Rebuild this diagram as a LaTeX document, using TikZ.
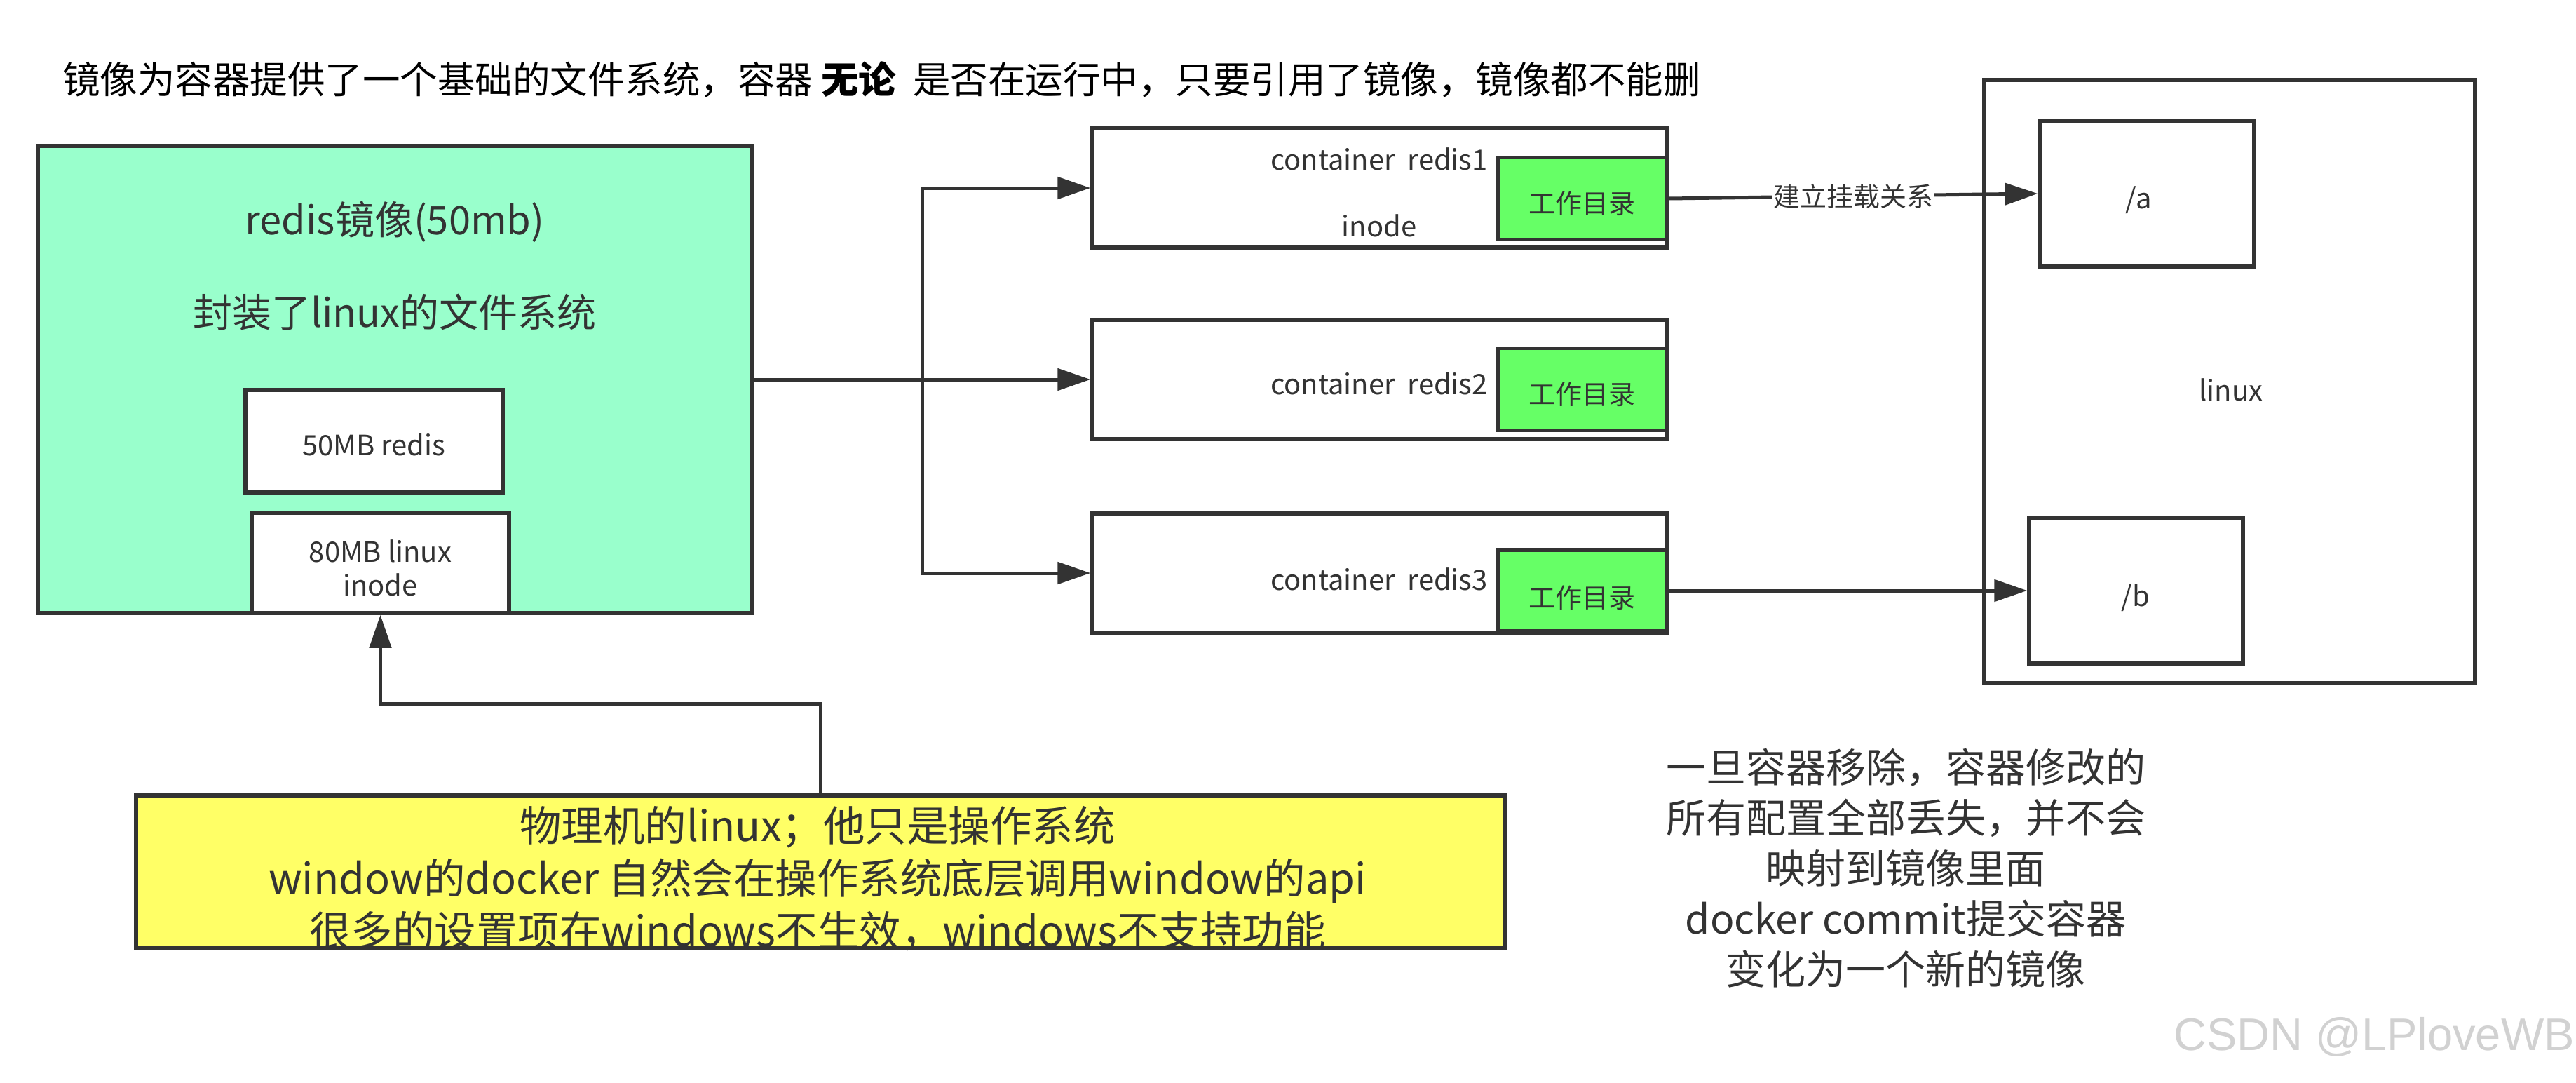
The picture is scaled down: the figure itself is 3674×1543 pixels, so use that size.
\documentclass[tikz,border=0pt]{standalone}
\usepackage{fontspec}
\setmainfont{Noto Sans CJK SC}
\newfontfamily\csdnfont{Liberation Sans}
\usetikzlibrary{arrows.meta}
\definecolor{dockerInk}{HTML}{333333}
\definecolor{dockerMint}{HTML}{99FFCC}
\definecolor{dockerLime}{HTML}{66FF66}
\definecolor{dockerNote}{HTML}{FFFF66}

\begin{document}
\begin{tikzpicture}[x=1pt,y=-1pt,
    box/.style={draw=dockerInk,line width=5.5pt,inner sep=0pt,text=dockerInk,
      font=\fontsize{40}{48}\selectfont},
    boxsize/.style 2 args={minimum width=#1pt,minimum height=#2pt},
    txt/.style={text=dockerInk,inner sep=0pt,font=\fontsize{40}{48}\selectfont},
    wdtxt/.style={txt,font=\fontsize{38}{44}\selectfont},
    wire/.style={draw=dockerInk,line width=5pt},
    link/.style={wire,-{Triangle[length=47pt,width=31pt]}}]
    \fill[white] (0,0) rectangle (3674,1543);
    \useasboundingbox (0,0) rectangle (3674,1543);

    % title
    \node[anchor=west,inner sep=0pt,font=\fontsize{53.5}{60}\selectfont] (title) at (89,113)
      {镜像为容器提供了一个基础的文件系统，容器 \textbf{无论}\ \ 是否在运行中，只要引用了镜像，镜像都不能删};

    % image
    \node[box,fill=dockerMint,boxsize={1018}{666}] (img) at (563,541) {};
    \node[txt,font=\fontsize{56}{64}\selectfont] (imgname) at (563,316) {redis镜像(50mb)};
    \node[txt,font=\fontsize{56}{64}\selectfont] (imgfs) at (563,445) {封装了linux的文件系统};
    \node[box,fill=white,boxsize={367}{146}] (redisfs) at (533.5,629) {};
    \node[txt] (redisfsname) at (533.5,634) {50MB redis};
    \node[box,fill=white,boxsize={367}{143}] (linuxfs) at (542.5,802.5) {};
    \node[txt,align=center] (linuxfsname) at (542.5,810) {80MB linux\\inode};

    % containers
    \node[box,boxsize={819}{170}] (c1) at (1967.5,268) {};
    \node[box,boxsize={819}{170}] (c2) at (1967.5,541) {};
    \node[box,boxsize={819}{170}] (c3) at (1967.5,817) {};
    \node[txt] (c1name) at (1967,227) {container\ \ redis1};
    \node[txt] (c1inode) at (1967,322) {inode};
    \node[txt] (c2name) at (1967,547) {container\ \ redis2};
    \node[txt] (c3name) at (1967,826) {container\ \ redis3};
    \node[box,fill=dockerLime,boxsize={241}{117}] (wd1) at (2256.5,283) {};
    \node[box,fill=dockerLime,boxsize={241}{117}] (wd2) at (2256.5,555) {};
    \node[box,fill=dockerLime,boxsize={241}{116}] (wd3) at (2256.5,842) {};
    \node[wdtxt] (wd1name) at (2256.5,290) {工作目录};
    \node[wdtxt] (wd2name) at (2256.5,562) {工作目录};
    \node[wdtxt] (wd3name) at (2256.5,852) {工作目录};

    % host linux
    \node[box,boxsize={700}{860}] (host) at (3180,544) {};
    \node[txt] (hostname) at (3182,556) {linux};
    \node[box,boxsize={306}{208}] (a) at (3062,276) {};
    \node[txt] (aname) at (3050,285) {/a};
    \node[box,boxsize={305}{208}] (b) at (3046.5,842) {};
    \node[txt] (bname) at (3046,852) {/b};

    % notes
    \node[box,fill=dockerNote,boxsize={1952}{218}] (phys) at (1170,1243) {};
    \node[txt,align=center,font=\fontsize{59.5}{75}\selectfont] (physnote) at (1166,1253)
      {物理机的linux；他只是操作系统\\window的docker 自然会在操作系统底层调用window的api\\很多的设置项在windows不生效，windows不支持功能};
    \node[txt,align=center,font=\fontsize{57}{72}\selectfont] (commitnote) at (2718,1238)
      {一旦容器移除，容器修改的\\所有配置全部丢失，并不会\\映射到镜像里面\\docker commit提交容器\\变化为一个新的镜像};
    \node[inner sep=0pt,text=black!18,font=\csdnfont\fontsize{65}{70}\selectfont] (csdn) at (3386,1478) {CSDN @LPloveWB};

    % connectors
    \coordinate (fork) at (1315,541);
    \draw[wire] (img.east) -- (fork);
    \draw[link] (fork) |- (c1.west);
    \draw[link] (fork) -- (c2.west);
    \draw[link] (fork) |- (c3.west);
    \draw[link] (wd1.east) -- node[fill=white,inner sep=2pt,text=dockerInk,font=\fontsize{38}{44}\selectfont] (mount) {建立挂载关系} (a.west);
    \draw[link] (wd3.east) -- (b.west);
    \coordinate (physbend) at (1170,1003);
    \draw[link] (phys.north) -- (physbend) -| (linuxfs.south);
  \end{tikzpicture}
\end{document}
